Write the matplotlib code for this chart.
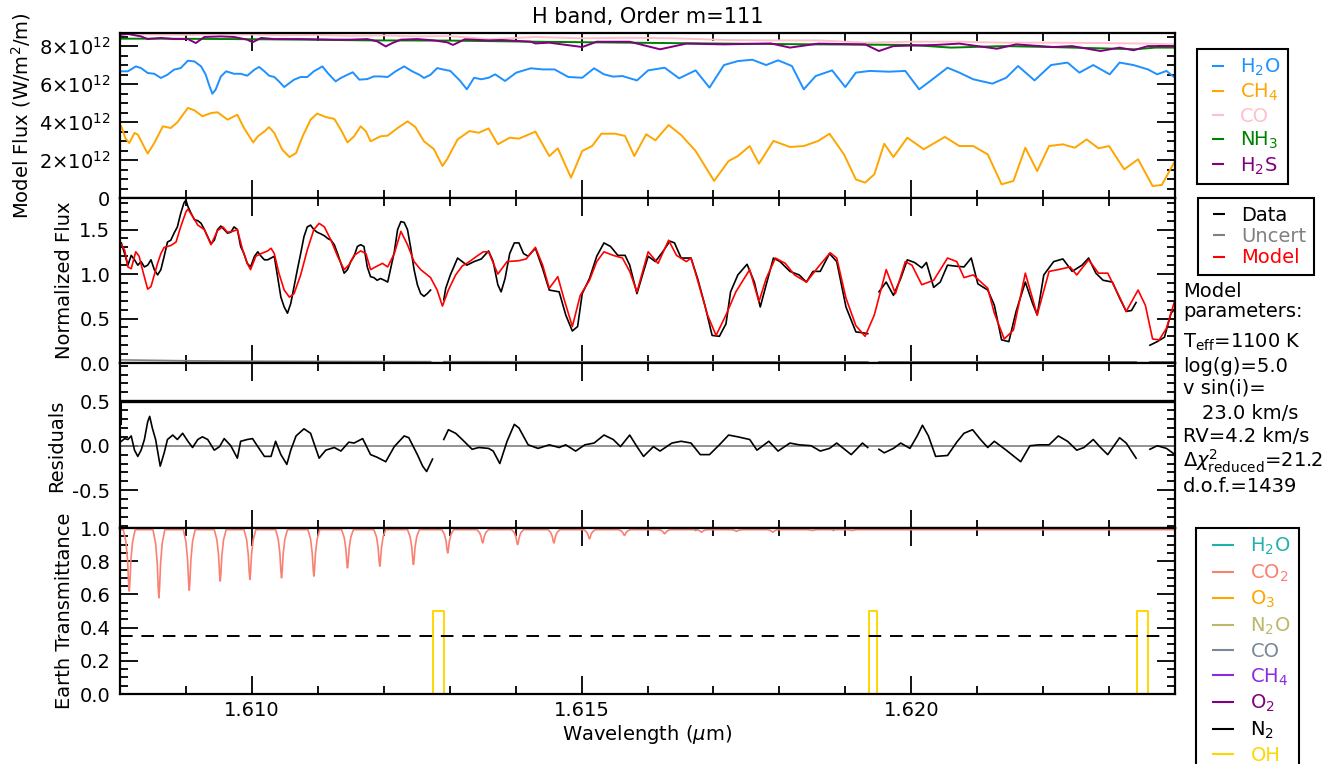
import numpy as np
import matplotlib
matplotlib.use('Agg')
import matplotlib.pyplot as plt
from matplotlib.lines import Line2D
from matplotlib.ticker import MultipleLocator, FuncFormatter, FixedLocator

nan = float('nan')

# ---------------- Model flux panel (values in units of 1e12 W/m^2/m) ----------------
h2o_wl = [1.60802, 1.60812, 1.60824, 1.60832, 1.60842, 1.60852, 1.60862, 1.60872, 1.60882, 1.60892,
          1.60903, 1.60913, 1.60923, 1.60930, 1.60935, 1.60940, 1.60945, 1.60953, 1.60961, 1.60973,
          1.60983, 1.60993, 1.61004, 1.61011, 1.61019, 1.61026, 1.61034, 1.61041, 1.61049, 1.61057,
          1.61064, 1.61074, 1.61084, 1.61094, 1.61107, 1.61115, 1.61127, 1.61135, 1.61145, 1.61153,
          1.61163, 1.61175, 1.61185, 1.61195, 1.61206, 1.61218, 1.61231, 1.61243, 1.61254, 1.61261,
          1.61271, 1.61281, 1.61291, 1.61301, 1.61316, 1.61326, 1.61337, 1.61348, 1.61359, 1.61369,
          1.61384, 1.61401, 1.61423, 1.61441, 1.61459, 1.61480, 1.61501, 1.61519, 1.61534, 1.61548,
          1.61562, 1.61584, 1.61601, 1.61626, 1.61648, 1.61673, 1.61694, 1.61716, 1.61737, 1.61759,
          1.61780, 1.61798, 1.61819, 1.61837, 1.61855, 1.61880, 1.61900, 1.61916, 1.61937, 1.61966,
          1.61991, 1.62012, 1.62030, 1.62055, 1.62073, 1.62094, 1.62123, 1.62144, 1.62162, 1.62187,
          1.62212, 1.62237, 1.62255, 1.62276, 1.62301, 1.62316, 1.62337, 1.62359, 1.62373, 1.62387,
          1.62400]
h2o_flux = [6.68, 6.68, 6.94, 6.85, 6.59, 6.55, 6.33, 6.50, 6.77, 6.85,
            7.24, 7.20, 6.94, 6.50, 5.97, 5.50, 5.71, 6.41, 6.68, 6.55,
            6.55, 6.45, 6.77, 6.91, 6.68, 6.45, 6.38, 6.15, 5.85, 6.06,
            6.24, 6.38, 6.38, 6.68, 6.94, 6.59, 6.15, 6.33, 6.50, 6.63,
            6.24, 6.27, 6.41, 6.41, 6.38, 6.68, 6.94, 6.68, 6.50, 6.33,
            6.50, 6.85, 6.77, 6.70, 6.17, 5.73, 6.34, 6.26, 6.34, 6.52,
            6.17, 6.61, 6.84, 6.78, 6.78, 6.38, 6.34, 6.84, 6.52, 6.40,
            6.43, 6.20, 6.73, 6.87, 6.31, 6.73, 5.82, 7.01, 7.22, 7.29,
            7.01, 7.26, 6.96, 5.73, 6.43, 6.73, 5.85, 6.61, 6.70, 6.66,
            6.70, 5.73, 6.20, 6.87, 6.61, 6.26, 6.03, 6.34, 6.96, 6.20,
            7.01, 7.14, 6.61, 7.01, 6.52, 7.14, 7.01, 6.78, 6.52, 6.70,
            6.34]

ch4_wl = [1.60802, 1.60808, 1.60814, 1.60822, 1.60827, 1.60842, 1.60852, 1.60865, 1.60877, 1.60887,
          1.60903, 1.60913, 1.60925, 1.60938, 1.60948, 1.60963, 1.60978, 1.60988, 1.61002, 1.61009,
          1.61019, 1.61026, 1.61034, 1.61046, 1.61057, 1.61067, 1.61077, 1.61089, 1.61099, 1.61112,
          1.61125, 1.61135, 1.61145, 1.61155, 1.61165, 1.61173, 1.61180, 1.61195, 1.61206, 1.61221,
          1.61236, 1.61248, 1.61261, 1.61276, 1.61289, 1.61296, 1.61312, 1.61330, 1.61344, 1.61359,
          1.61373, 1.61391, 1.61405, 1.61430, 1.61451, 1.61464, 1.61484, 1.61501, 1.61516, 1.61530,
          1.61551, 1.61566, 1.61580, 1.61598, 1.61612, 1.61632, 1.61651, 1.61673, 1.61701, 1.61723,
          1.61737, 1.61755, 1.61769, 1.61791, 1.61816, 1.61837, 1.61859, 1.61876, 1.61898, 1.61916,
          1.61930, 1.61944, 1.61959, 1.61973, 1.61994, 1.62019, 1.62051, 1.62073, 1.62094, 1.62116,
          1.62137, 1.62155, 1.62173, 1.62191, 1.62209, 1.62230, 1.62248, 1.62266, 1.62284, 1.62300,
          1.62323, 1.62344, 1.62366, 1.62380, 1.62400]
ch4_flux = [3.78, 3.16, 2.90, 3.43, 3.34, 2.34, 2.90, 3.78, 3.69, 3.99,
            4.75, 4.62, 4.31, 4.48, 4.52, 4.13, 4.39, 3.69, 2.93, 3.25,
            3.51, 3.74, 3.43, 2.55, 2.16, 2.37, 3.25, 4.13, 4.45, 4.27,
            4.17, 3.60, 2.93, 3.25, 3.78, 3.51, 2.99, 3.25, 3.29, 3.69,
            4.04, 3.74, 2.99, 2.58, 1.69, 2.04, 3.09, 3.53, 3.44, 3.67,
            2.83, 3.18, 3.13, 3.50, 2.21, 2.62, 1.07, 2.48, 2.74, 3.39,
            3.39, 3.27, 2.21, 3.36, 3.04, 3.85, 3.32, 2.48, 0.90, 1.95,
            2.21, 2.74, 1.81, 3.01, 2.69, 2.74, 3.01, 3.39, 2.30, 0.98,
            0.81, 1.25, 2.86, 2.16, 3.18, 2.57, 3.22, 2.74, 2.74, 2.30,
            0.72, 0.90, 2.65, 1.42, 2.74, 2.83, 2.65, 3.09, 2.62, 2.74,
            1.51, 2.04, 0.63, 0.69, 1.95]

co_wl = [1.6080, 1.6085, 1.6090, 1.6095, 1.6100, 1.6105, 1.6110, 1.6115, 1.6120, 1.6125,
         1.6130, 1.6136, 1.6143, 1.6150, 1.6157, 1.6164, 1.6172, 1.6179, 1.6186, 1.6190,
         1.6193, 1.6200, 1.6207, 1.6214, 1.6221, 1.6229, 1.6236, 1.6240]
co_flux = [8.64, 8.62, 8.60, 8.63, 8.62, 8.58, 8.60, 8.55, 8.57, 8.52,
           8.54, 8.37, 8.49, 8.42, 8.45, 8.42, 8.33, 8.31, 8.31, 8.24,
           8.19, 8.24, 8.24, 8.19, 8.19, 8.17, 8.14, 8.10]

nh3_wl = [1.6080, 1.6087, 1.6097, 1.6108, 1.6118, 1.6130, 1.6143, 1.6157, 1.6172, 1.6186,
          1.6200, 1.6206, 1.6214, 1.6221, 1.6229, 1.6234, 1.6237, 1.6240]
nh3_flux = [8.40, 8.40, 8.38, 8.35, 8.31, 8.30, 8.24, 8.19, 8.14, 8.10,
            8.07, 7.93, 8.01, 7.96, 7.89, 7.84, 7.93, 7.93]

h2s_wl = [1.60802, 1.60812, 1.60832, 1.60842, 1.60862, 1.60882, 1.60903, 1.60915, 1.60928, 1.60953,
          1.60973, 1.60993, 1.61001, 1.61014, 1.61034, 1.61074, 1.61125, 1.61150, 1.61175, 1.61190,
          1.61203, 1.61213, 1.61226, 1.61251, 1.61276, 1.61296, 1.61305, 1.61323, 1.61359, 1.61380,
          1.61423, 1.61430, 1.61451, 1.61501, 1.61523, 1.61573, 1.61619, 1.61659, 1.61716, 1.61787,
          1.61816, 1.61859, 1.61930, 1.61951, 1.61973, 1.62037, 1.62073, 1.62130, 1.62159, 1.62216,
          1.62244, 1.62287, 1.62316, 1.62337, 1.62359, 1.62400]
h2s_flux = [8.61, 8.65, 8.52, 8.38, 8.44, 8.38, 8.38, 8.17, 8.49, 8.52,
            8.49, 8.35, 8.21, 8.44, 8.38, 8.38, 8.35, 8.35, 8.38, 8.26,
            7.99, 8.17, 8.35, 8.38, 8.31, 8.21, 8.07, 8.37, 8.31, 8.33,
            8.24, 8.15, 8.19, 7.96, 8.24, 8.24, 7.84, 8.14, 8.10, 8.15,
            7.93, 8.14, 8.10, 7.75, 8.01, 8.07, 8.14, 7.87, 8.10, 7.96,
            8.01, 7.75, 7.93, 7.79, 8.01, 8.01]

# ---------------- Normalized flux panel ----------------
data_wl = [1.60802, 1.60807, 1.60812, 1.60817, 1.60822, 1.60827, 1.60832, 1.60837, 1.60842, 1.60847,
           1.60852, 1.60857, 1.60862, 1.60867, 1.60872, 1.60877, 1.60882, 1.60887, 1.60892, 1.60897,
           1.60900, 1.60903, 1.60908, 1.60913, 1.60918, 1.60923, 1.60928, 1.60933, 1.60938, 1.60943,
           1.60948, 1.60953, 1.60958, 1.60963, 1.60968, 1.60973, 1.60978, 1.60983, 1.60988, 1.60993,
           1.60998, 1.61004, 1.61009, 1.61014, 1.61019, 1.61024, 1.61029, 1.61034, 1.61039, 1.61044,
           1.61049, 1.61054, 1.61059, 1.61064, 1.61069, 1.61074, 1.61079, 1.61084, 1.61089, 1.61094,
           1.61099, 1.61105, 1.61110, 1.61115, 1.61120, 1.61125, 1.61130, 1.61135, 1.61140, 1.61145,
           1.61150, 1.61155, 1.61160, 1.61165, 1.61170, 1.61175, 1.61180, 1.61185, 1.61190, 1.61195,
           1.61201, 1.61206, 1.61211, 1.61216, 1.61221, 1.61226, 1.61231, 1.61236, 1.61241, 1.61246,
           1.61251, 1.61256, 1.61261, 1.61266, 1.61271, 1.61282, 1.61291, 1.61294, 1.61301, 1.61312,
           1.61319, 1.61326, 1.61337, 1.61348, 1.61359, 1.61366, 1.61373, 1.61378, 1.61384, 1.61391,
           1.61398, 1.61405, 1.61412, 1.61419, 1.61430, 1.61441, 1.61451, 1.61466, 1.61476, 1.61486,
           1.61494, 1.61501, 1.61512, 1.61523, 1.61534, 1.61544, 1.61555, 1.61566, 1.61573, 1.61584,
           1.61594, 1.61601, 1.61612, 1.61623, 1.61634, 1.61641, 1.61651, 1.61666, 1.61676, 1.61687,
           1.61698, 1.61709, 1.61719, 1.61726, 1.61737, 1.61751, 1.61762, 1.61771, 1.61780, 1.61791,
           1.61801, 1.61816, 1.61830, 1.61841, 1.61851, 1.61862, 1.61876, 1.61887, 1.61901, 1.61916,
           1.61926, 1.61934, 1.61942, 1.61951, 1.61962, 1.61973, 1.61984, 1.61994, 1.62005, 1.62016,
           1.62023, 1.62034, 1.62044, 1.62055, 1.62066, 1.62080, 1.62091, 1.62101, 1.62116, 1.62126,
           1.62137, 1.62148, 1.62159, 1.62173, 1.62184, 1.62191, 1.62201, 1.62216, 1.62230, 1.62244,
           1.62259, 1.62269, 1.62280, 1.62291, 1.62305, 1.62316, 1.62326, 1.62334, 1.62341, 1.62350,
           1.62362, 1.62373, 1.62384, 1.62394, 1.62400]
data_flux = [1.35, 1.23, 1.10, 1.21, 1.16, 1.10, 1.14, 1.08, 1.10, 1.16,
             1.05, 0.99, 1.05, 1.20, 1.36, 1.38, 1.46, 1.53, 1.68, 1.80,
             1.83, 1.76, 1.68, 1.61, 1.60, 1.57, 1.50, 1.42, 1.34, 1.38,
             1.50, 1.54, 1.50, 1.46, 1.47, 1.53, 1.50, 1.31, 1.23, 1.12,
             1.08, 1.20, 1.25, 1.20, 1.16, 1.16, 1.18, 1.20, 0.97, 0.74,
             0.63, 0.56, 0.67, 0.86, 1.05, 1.23, 1.42, 1.53, 1.55, 1.50,
             1.47, 1.45, 1.43, 1.40, 1.38, 1.33, 1.23, 1.12, 1.01, 1.05,
             1.14, 1.20, 1.31, 1.33, 1.31, 1.08, 0.97, 0.96, 0.93, 0.95,
             0.93, 0.91, 1.08, 1.25, 1.50, 1.59, 1.58, 1.50, 1.29, 1.05,
             0.88, 0.78, 0.75, 0.78, 0.82, nan, 0.71, 0.84, 0.99, 1.18,
             1.14, 1.10, 1.14, 1.17, 1.26, 1.14, 0.88, 0.80, 0.95, 1.23,
             1.35, 1.35, 1.23, 1.20, 1.29, 1.06, 0.82, 0.80, 0.54, 0.36,
             0.41, 0.78, 0.95, 1.20, 1.35, 1.31, 1.21, 1.21, 1.10, 0.78,
             1.03, 1.20, 1.14, 1.25, 1.37, 1.35, 1.18, 1.18, 0.95, 0.65,
             0.31, 0.30, 0.44, 0.80, 0.99, 1.11, 0.91, 0.63, 0.88, 1.18,
             1.14, 1.03, 0.99, 0.91, 1.03, 1.03, 1.23, 1.14, 0.63, 0.35,
             0.34, 0.33, nan, 0.80, 0.91, 0.76, 0.95, 1.16, 1.13, 1.07,
             1.13, 0.85, 0.91, 1.10, 1.09, 1.08, 1.18, 0.89, 0.82, 0.65,
             0.26, 0.24, 0.58, 0.91, 0.67, 0.54, 0.99, 1.14, 1.17, 1.03,
             1.10, 1.18, 1.01, 0.93, 0.91, 0.73, 0.58, 0.59, 0.68, nan,
             0.20, 0.24, 0.29, 0.56, 0.61]

model_wl = [1.60802, 1.60807, 1.60812, 1.60817, 1.60822, 1.60824, 1.60829, 1.60834, 1.60842, 1.60847,
            1.60852, 1.60857, 1.60862, 1.60867, 1.60877, 1.60885, 1.60892, 1.60900, 1.60903, 1.60910,
            1.60918, 1.60928, 1.60938, 1.60948, 1.60956, 1.60963, 1.60971, 1.60978, 1.60986, 1.60993,
            1.60998, 1.61006, 1.61014, 1.61024, 1.61029, 1.61034, 1.61041, 1.61049, 1.61057, 1.61064,
            1.61074, 1.61084, 1.61094, 1.61102, 1.61110, 1.61120, 1.61130, 1.61140, 1.61147, 1.61155,
            1.61165, 1.61173, 1.61180, 1.61190, 1.61198, 1.61206, 1.61216, 1.61226, 1.61236, 1.61246,
            1.61256, 1.61271, 1.61281, 1.61289, 1.61298, 1.61309, 1.61319, 1.61330, 1.61341, 1.61351,
            1.61359, 1.61373, 1.61387, 1.61405, 1.61416, 1.61430, 1.61441, 1.61451, 1.61464, 1.61473,
            1.61486, 1.61498, 1.61512, 1.61523, 1.61534, 1.61548, 1.61562, 1.61573, 1.61584, 1.61601,
            1.61616, 1.61632, 1.61644, 1.61659, 1.61666, 1.61676, 1.61691, 1.61704, 1.61719, 1.61734,
            1.61755, 1.61769, 1.61780, 1.61794, 1.61809, 1.61823, 1.61841, 1.61859, 1.61877, 1.61887,
            1.61901, 1.61916, 1.61930, 1.61944, 1.61962, 1.61976, 1.61991, 1.62001, 1.62016, 1.62034,
            1.62055, 1.62069, 1.62080, 1.62094, 1.62116, 1.62126, 1.62141, 1.62155, 1.62173, 1.62191,
            1.62209, 1.62223, 1.62241, 1.62251, 1.62269, 1.62284, 1.62298, 1.62316, 1.62326, 1.62344,
            1.62355, 1.62366, 1.62376, 1.62387, 1.62400]
model_flux = [1.33, 1.27, 1.08, 1.06, 1.20, 1.25, 1.20, 1.05, 0.83, 0.86,
              0.99, 1.12, 1.23, 1.30, 1.32, 1.36, 1.53, 1.70, 1.73, 1.65,
              1.55, 1.50, 1.33, 1.49, 1.53, 1.47, 1.48, 1.50, 1.27, 1.12,
              1.05, 1.20, 1.23, 1.26, 1.29, 1.23, 1.01, 0.82, 0.74, 0.78,
              0.99, 1.27, 1.50, 1.57, 1.53, 1.38, 1.20, 1.05, 1.10, 1.21,
              1.26, 1.23, 1.05, 1.09, 1.12, 1.08, 1.23, 1.48, 1.33, 1.14,
              1.05, 0.96, 0.82, 0.64, 0.82, 0.99, 1.09, 1.14, 1.20, 1.25,
              1.25, 1.00, 1.14, 1.15, 1.17, 1.30, 1.10, 0.84, 0.97, 0.73,
              0.41, 0.76, 0.93, 1.14, 1.25, 1.21, 1.18, 1.03, 0.80, 1.25,
              1.12, 1.38, 1.21, 1.14, 1.18, 0.93, 0.54, 0.31, 0.54, 0.80,
              1.05, 0.69, 0.95, 1.18, 1.12, 0.99, 0.91, 1.08, 1.24, 1.18,
              0.73, 0.42, 0.30, 0.54, 1.05, 0.78, 1.14, 1.10, 0.88, 0.93,
              1.18, 1.14, 0.96, 0.99, 0.84, 0.56, 0.27, 0.37, 1.01, 0.54,
              1.03, 1.05, 1.08, 0.99, 1.16, 1.01, 1.01, 0.74, 0.58, 0.82,
              0.65, 0.27, 0.26, 0.39, 0.71]

uncert_wl = [1.6080, 1.6085, 1.6090, 1.6100, 1.6110, 1.61271, 1.61282, 1.61291, 1.6150, 1.6180,
             1.61934, 1.61942, 1.61951, 1.6220, 1.62341, 1.62350, 1.62362, 1.6240]
uncert_flux = [0.035, 0.030, 0.025, 0.020, 0.018, 0.015, nan, 0.015, 0.014, 0.013,
               0.013, nan, 0.013, 0.013, 0.013, nan, 0.013, 0.013]

# ---------------- Residuals panel ----------------
resid_wl = [1.60802, 1.60807, 1.60812, 1.60817, 1.60822, 1.60827, 1.60832, 1.60837, 1.60842, 1.60845,
            1.60849, 1.60854, 1.60861, 1.60867, 1.60872, 1.60880, 1.60887, 1.60895, 1.60903, 1.60910,
            1.60918, 1.60925, 1.60933, 1.60943, 1.60951, 1.60958, 1.60968, 1.60978, 1.60983, 1.60993,
            1.61001, 1.61009, 1.61019, 1.61029, 1.61036, 1.61044, 1.61053, 1.61059, 1.61067, 1.61079,
            1.61089, 1.61102, 1.61112, 1.61125, 1.61135, 1.61147, 1.61155, 1.61168, 1.61180, 1.61190,
            1.61203, 1.61216, 1.61231, 1.61238, 1.61251, 1.61259, 1.61265, 1.61274, 1.61282, 1.61291,
            1.61298, 1.61309, 1.61319, 1.61334, 1.61344, 1.61359, 1.61366, 1.61376, 1.61387, 1.61398,
            1.61405, 1.61419, 1.61434, 1.61451, 1.61466, 1.61476, 1.61491, 1.61505, 1.61519, 1.61534,
            1.61548, 1.61559, 1.61573, 1.61584, 1.61594, 1.61609, 1.61619, 1.61637, 1.61651, 1.61666,
            1.61680, 1.61694, 1.61709, 1.61723, 1.61737, 1.61755, 1.61766, 1.61784, 1.61798, 1.61816,
            1.61830, 1.61848, 1.61862, 1.61876, 1.61887, 1.61909, 1.61926, 1.61934, 1.61942, 1.61951,
            1.61959, 1.61973, 1.61984, 1.61998, 1.62009, 1.62017, 1.62026, 1.62037, 1.62055, 1.62069,
            1.62080, 1.62093, 1.62105, 1.62116, 1.62126, 1.62144, 1.62166, 1.62180, 1.62194, 1.62209,
            1.62223, 1.62237, 1.62251, 1.62262, 1.62276, 1.62287, 1.62298, 1.62316, 1.62326, 1.62341,
            1.62350, 1.62362, 1.62373, 1.62387, 1.62400]
resid_val = [0.05, 0.08, 0.07, 0.11, -0.05, -0.12, -0.05, 0.07, 0.27, 0.33,
             0.20, 0.07, -0.23, -0.08, 0.07, 0.12, 0.07, 0.14, 0.05, -0.02,
             0.07, 0.10, 0.07, -0.05, -0.01, 0.08, 0.00, -0.14, 0.05, 0.07,
             0.08, -0.01, -0.12, -0.12, 0.05, -0.10, -0.21, -0.05, 0.11, 0.19,
             0.14, -0.14, -0.05, -0.02, -0.06, 0.04, 0.03, 0.08, -0.10, -0.13,
             -0.18, -0.01, 0.11, 0.09, -0.10, -0.23, -0.29, -0.15, nan, 0.07,
             0.18, 0.14, 0.07, -0.04, -0.02, -0.03, -0.06, -0.20, 0.05, 0.24,
             0.20, 0.01, -0.03, 0.01, -0.02, 0.01, -0.06, 0.01, 0.03, 0.12,
             0.07, -0.01, 0.12, -0.01, -0.12, -0.01, -0.06, 0.03, 0.05, 0.03,
             -0.10, -0.10, 0.01, 0.12, 0.10, 0.07, -0.05, 0.05, -0.06, 0.03,
             0.01, 0.00, -0.06, -0.03, 0.03, -0.10, 0.03, -0.02, nan, -0.04,
             -0.08, -0.03, 0.03, -0.03, 0.11, 0.23, 0.11, -0.12, -0.11, 0.04,
             0.14, 0.18, 0.07, -0.02, 0.05, -0.05, -0.18, 0.00, 0.01, 0.01,
             0.11, 0.05, -0.05, -0.02, 0.07, -0.02, -0.10, 0.09, 0.03, -0.14,
             nan, -0.04, 0.00, -0.03, -0.10]
resid_bar_level = 0.5
resid_bar_low = 0.26

# ---------------- Earth transmittance panel ----------------
co2_centers = [1.60814, 1.60859, 1.60905, 1.60952, 1.60997, 1.61045, 1.61094, 1.61145, 1.61194, 1.61245,
               1.61297, 1.61350, 1.61403, 1.61458, 1.61512, 1.61565, 1.61626, 1.61682, 1.61735, 1.61790,
               1.61850, 1.61910]
co2_min = [0.62, 0.58, 0.625, 0.68, 0.69, 0.70, 0.71, 0.76, 0.77, 0.78,
           0.85, 0.91, 0.90, 0.91, 0.935, 0.955, 0.965, 0.975, 0.98, 0.975,
           0.985, 0.985]
co2_continuum = 0.99
line_offsets = [-9e-5, -5e-5, -2.5e-5, -1e-5, 0.0, 1e-5, 2.5e-5, 5e-5, 9e-5]
line_shape = [0.0, 0.2, 0.5, 0.86, 1.0, 0.86, 0.5, 0.2, 0.0]

h2o_t_wl = [1.6080, 1.61670, 1.61673, 1.61676, 1.61879, 1.61882, 1.61885, 1.6240]
h2o_t_val = [1.0, 1.0, 0.985, 1.0, 1.0, 0.985, 1.0, 1.0]

oh_starts = [1.61274, 1.61936, 1.62342]
oh_ends = [1.61291, 1.61948, 1.62359]
oh_level = 0.5
threshold = 0.35

xlim = (1.6080, 1.6240)

# ================= Plot =================
FS = 14
plt.rcParams['font.family'] = ['DejaVu Sans']
plt.rcParams['font.size'] = FS
plt.rcParams['mathtext.fontset'] = 'dejavusans'
plt.rcParams['lines.solid_joinstyle'] = 'round'

fig = plt.figure(figsize=(13.33, 7.64), dpi=100)
L, W = 120 / 1333, 1055 / 1333
edges_px = [33, 198, 363, 528, 694]
axes = []
for i in range(4):
    top, bot = edges_px[i], edges_px[i + 1]
    ax = fig.add_axes([L, 1 - bot / 764, W, (bot - top) / 764])
    axes.append(ax)
ax1, ax2, ax3, ax4 = axes

for ax in axes:
    ax.set_xlim(*xlim)
    ax.xaxis.set_major_locator(MultipleLocator(0.005))
    ax.xaxis.set_minor_locator(MultipleLocator(0.001))
    ax.tick_params(which='both', direction='in', top=True, right=True, width=1.3, labelsize=FS)
    ax.tick_params(which='major', length=13, pad=7)
    ax.tick_params(which='minor', length=6)
    ax.tick_params(axis='x', which='major', pad=5)
    for s in ax.spines.values():
        s.set_linewidth(1.6)
    if ax is not ax4:
        ax.tick_params(labelbottom=False)

# Panel 1
sc = 1e12
top_series = [(h2o_wl, h2o_flux, 'dodgerblue', 'H$_2$O'),
              (ch4_wl, ch4_flux, 'orange', 'CH$_4$'),
              (co_wl, co_flux, 'pink', 'CO'),
              (nh3_wl, nh3_flux, 'green', 'NH$_3$'),
              (h2s_wl, h2s_flux, 'purple', 'H$_2$S')]
for wl, fl, col, lab in top_series:
    ax1.plot(wl, np.array(fl) * sc, color=col, lw=1.4)
ax1.set_ylim(0, 8.7e12)
ax1.yaxis.set_major_locator(MultipleLocator(2e12))
ax1.yaxis.set_minor_locator(MultipleLocator(0.5e12))


def flux_fmt(v, pos):
    m = v / 1e12
    if abs(m) < 1e-9:
        return '0'
    return r'$%d{\times}10^{12}$' % round(m)


ax1.yaxis.set_major_formatter(FuncFormatter(flux_fmt))
ax1.set_ylabel('Model Flux (W/m$^2$/m)', fontsize=FS)
ax1.set_title('H band, Order m=111', fontsize=15, pad=7)

# Panel 2
ax2.plot(data_wl, data_flux, color='black', lw=1.2)
ax2.plot(uncert_wl, uncert_flux, color='gray', lw=1.2)
ax2.plot(model_wl, model_flux, color='red', lw=1.2)
ax2.set_ylim(0, 1.855)
ax2.yaxis.set_major_locator(FixedLocator([0.0, 0.5, 1.0, 1.5]))
ax2.yaxis.set_minor_locator(MultipleLocator(0.1))
ax2.yaxis.set_major_formatter(FuncFormatter(lambda v, p: '%.1f' % v))
ax2.set_ylabel('Normalized Flux', fontsize=FS)

# Panel 3
ax3.axhline(0.0, color='gray', lw=1.2)
ax3.plot(resid_wl, resid_val, color='black', lw=1.2)
ax3.plot([xlim[0], xlim[1]], [resid_bar_level, resid_bar_level], color='black', lw=2.4,
         solid_capstyle='butt')
for xe in xlim:
    ax3.plot([xe, xe], [resid_bar_low, resid_bar_level], color='black', lw=2.2)
ax3.set_ylim(-0.925, 0.93)
ax3.yaxis.set_major_locator(FixedLocator([-0.5, 0.0, 0.5]))
ax3.yaxis.set_minor_locator(MultipleLocator(0.1))
ax3.yaxis.set_major_formatter(FuncFormatter(lambda v, p: '%.1f' % v))
ax3.set_ylabel('Residuals', fontsize=FS)

# Panel 4
co2_wl = [xlim[0]]
co2_t = [co2_continuum]
for c, m in zip(co2_centers, co2_min):
    for dx, f in zip(line_offsets, line_shape):
        co2_wl.append(c + dx)
        co2_t.append(co2_continuum - f * (co2_continuum - m))
co2_wl.append(xlim[1])
co2_t.append(co2_continuum)

earth_species = [('H$_2$O', 'lightseagreen'), ('CO$_2$', 'salmon'), ('O$_3$', 'orange'),
                 ('N$_2$O', 'darkkhaki'), ('CO', 'lightslategray'), ('CH$_4$', 'blueviolet'),
                 ('O$_2$', 'purple'), ('N$_2$', 'black'), ('OH', 'gold')]

ax4.plot(h2o_t_wl, h2o_t_val, color='lightseagreen', lw=1.2)
ax4.plot(co2_wl, co2_t, color='salmon', lw=1.2)
for name, col in earth_species[2:8]:
    ax4.plot(list(xlim), [1.0, 1.0], color=col, lw=1.2)
oh_wl = [xlim[0]]
oh_t = [0.0]
for s, e in zip(oh_starts, oh_ends):
    oh_wl += [s, s, e, e]
    oh_t += [0.0, oh_level, oh_level, 0.0]
oh_wl.append(xlim[1])
oh_t.append(0.0)
ax4.plot(oh_wl, oh_t, color='gold', lw=1.4)
ax4.axhline(threshold, color='black', lw=1.4, ls=(0, (6.5, 4.5)))
ax4.set_ylim(0, 1.0)
ax4.yaxis.set_major_locator(MultipleLocator(0.2))
ax4.yaxis.set_minor_locator(MultipleLocator(0.05))
ax4.yaxis.set_major_formatter(FuncFormatter(lambda v, p: '%.1f' % v))
ax4.xaxis.set_major_formatter(FuncFormatter(lambda v, p: '%.3f' % v))
ax4.set_ylabel('Earth Transmittance', fontsize=FS)
ax4.set_xlabel(r'Wavelength ($\mu$m)', fontsize=FS, labelpad=2)

fig.align_ylabels(axes[1:])


def colored_legend(ax, entries, anchor, msize, hl, ls):
    handles = [Line2D([], [], color=c, marker='_', linestyle='None', markersize=msize,
                      markeredgewidth=1.5) for _, c in entries]
    labels = [n for n, _ in entries]
    leg = ax.legend(handles, labels, loc='upper left', bbox_to_anchor=anchor,
                    bbox_transform=fig.transFigure, borderaxespad=0, fancybox=False,
                    framealpha=1, edgecolor='black', fontsize=FS, handlelength=hl,
                    handletextpad=0.4, labelspacing=ls, borderpad=0.4)
    leg.get_frame().set_linewidth(1.5)
    for (_, c), txt in zip(entries, leg.get_texts()):
        txt.set_color(c)
    return leg


colored_legend(ax1, [(lab, col) for _, _, col, lab in top_series],
               (1197 / 1333, 1 - 49 / 764), 9, 1.4, 0.2)
colored_legend(ax2, [('Data', 'black'), ('Uncert', 'gray'), ('Model', 'red')],
               (1198 / 1333, 1 - 198 / 764), 9, 1.4, 0.12)
colored_legend(ax4, earth_species, (1196 / 1333, 1 - 528 / 764), 16.5, 2.0, 0.27)

# Model parameters text
params = [('Model', 297, 1183), ('parameters:', 317, 1183), (r'T$_{\rm eff}$=1100 K', 348, 1183),
          ('log(g)=5.0', 372, 1183), ('v sin(i)=', 394, 1183), ('23.0 km/s', 419, 1202),
          ('RV=4.2 km/s', 442, 1183), (r'$\Delta\chi^2_{\rm reduced}$=21.2', 467, 1183),
          ('d.o.f.=1439', 492, 1183)]
for txt, ypx, xpx in params:
    fig.text(xpx / 1333, 1 - ypx / 764, txt, fontsize=FS, ha='left', va='baseline')

fig.savefig('out.png', dpi=100)
